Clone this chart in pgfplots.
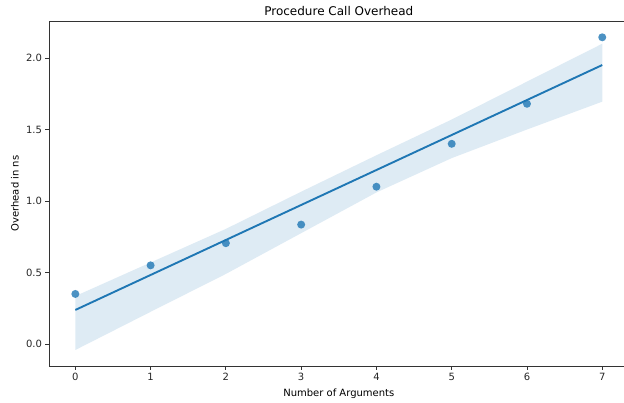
\documentclass[border=0pt]{standalone}
\usepackage{fontspec}
\setmainfont{DejaVu Sans}
\usepackage{pgfplots}
\pgfplotsset{compat=1.18}
\usepgfplotslibrary{fillbetween}

\definecolor{c0}{HTML}{1F77B4}
\definecolor{spine}{HTML}{333333}

\begin{document}
\begin{tikzpicture}
\begin{axis}[
    name=main,
    scale only axis,
    width=579.6pt, height=345pt,
    xmin=-0.35, xmax=7.35,
    ymin=-0.154, ymax=2.259,
    xtick={0,1,2,3,4,5,6,7},
    ytick={0,0.5,1,1.5,2},
    yticklabel style={/pgf/number format/fixed, /pgf/number format/fixed zerofill, /pgf/number format/precision=1},
    /pgf/number format/assume math mode=true,
    ticklabel style={font=\fontsize{10}{12}\selectfont, text=black!85},
    tick align=outside,
    major tick length=3.5pt,
    xtick pos=bottom, ytick pos=left,
    tick style={spine, line width=0.8pt},
    axis line style={spine, line width=0.9pt},
    title={Procedure Call Overhead},
    title style={font=\fontsize{12}{14}\selectfont, at={(axis description cs:0.5,1)}, anchor=base, yshift=0pt},
    xlabel={Number of Arguments},
    xlabel style={font=\fontsize{10}{12}\selectfont, at={(axis description cs:0.5,0)}, anchor=base, yshift=-30pt},
    ylabel={Overhead in ns},
    ylabel style={font=\fontsize{10}{12}\selectfont, at={(axis description cs:0,0.5)}, anchor=center, yshift=34pt},
]
% measured points
\addplot[only marks, mark=*, mark size=4pt,
    mark options={draw opacity=0, fill=c0, fill opacity=0.8}] coordinates {
    (0,0.35) (1,0.55) (2,0.705) (3,0.835) (4,1.10) (5,1.40) (6,1.68) (7,2.145)
};

% confidence band
\addplot[draw=none, name path=upper, forget plot] coordinates {
    (0,0.335) (1,0.57) (2,0.805) (3,1.065) (4,1.32) (5,1.57) (6,1.835) (7,2.10)
};
\addplot[draw=none, name path=lower, forget plot] coordinates {
    (0,-0.042) (1,0.225) (2,0.49) (3,0.775) (4,1.06) (5,1.30) (6,1.50) (7,1.695)
};
\addplot[fill=c0, fill opacity=0.15, draw=none] fill between[of=upper and lower];

% regression line
\addplot[c0, line width=1.9pt] coordinates {
    (0,0.238) (7,1.951)
};
\end{axis}
\pgfresetboundingbox
\path (main.south west) ++(-49pt,-36pt) rectangle ++(624pt,402pt);
\end{tikzpicture}
\end{document}
